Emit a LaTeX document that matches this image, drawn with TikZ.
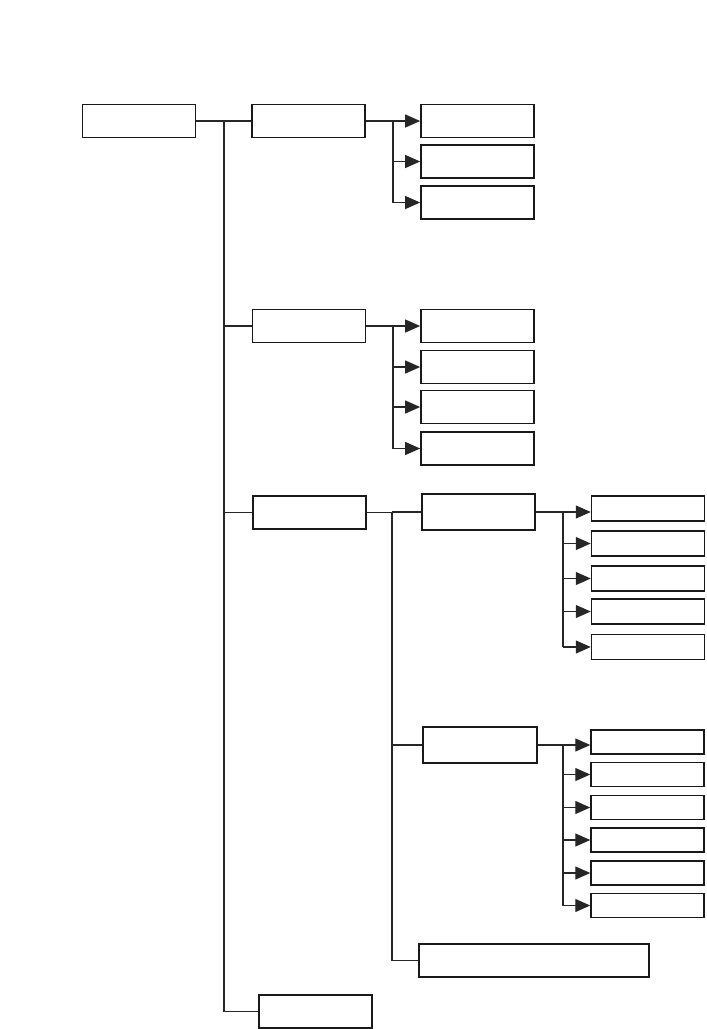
\documentclass[tikz,border=0pt]{standalone}
\usetikzlibrary{arrows.meta, positioning}
\begin{document}
\begin{tikzpicture}[x=1pt, y=-1pt,
  box/.style={draw=black!90, line width=1.7pt, minimum width=113pt, minimum height=33pt, inner sep=0pt},
  leaf/.style={box, line width=1.5pt, minimum height=25pt},
  link/.style={line width=1.2pt, black!85},
  arr/.style={link, -{Triangle[length=15pt, width=13pt]}}]
\useasboundingbox (0,0) rectangle (707,1029);
% first level
\node at (139,121) [box] (root) {};
\node at (308.5,121) [box] (sys) {};
\node at (309,326) [box] (mid) {};
\node at (309.5,512.5) [box] (low) {};
\node at (315.5,1011.5) [box] (tail) {};
% children of sys
\node at (477.5,121) [box] (a1) {};
\node at (477.5,161.5) [box] (a2) {};
\node at (477.5,202.5) [box] (a3) {};
% children of mid
\node at (477.5,326) [box] (b1) {};
\node at (477.5,367) [box] (b2) {};
\node at (477.5,407) [box] (b3) {};
\node at (477.5,448.5) [box] (b4) {};
% children of low
\node at (478.5,512) [box, minimum height=36pt] (c1) {};
\node at (480,745) [box, minimum height=36pt, minimum width=114pt] (c2) {};
\node at (534,960.5) [box, minimum width=230pt] (c3) {};
% leaves of c1
\node at (648,508.5) [leaf] (d1) {};
\node at (648,543.5) [leaf] (d2) {};
\node at (648,578.5) [leaf] (d3) {};
\node at (648,611.5) [leaf] (d4) {};
\node at (648,647) [leaf] (d5) {};
% leaves of c2
\node at (647.5,742) [leaf, minimum height=24pt] (e1) {};
\node at (647.5,774.5) [leaf, minimum height=24pt] (e2) {};
\node at (647.5,807.5) [leaf, minimum height=24pt] (e3) {};
\node at (647.5,840) [leaf, minimum height=24pt] (e4) {};
\node at (647.5,873) [leaf, minimum height=24pt] (e5) {};
\node at (647.5,905.5) [leaf, minimum height=24pt] (e6) {};
% junctions
\coordinate (jroot) at (224,121);
\coordinate (jA) at (393,121);
\coordinate (jB) at (393,326);
\coordinate (jC) at (392,512.5);
\coordinate (jC1) at (563,512);
\coordinate (jC2) at (563,745);
% trunk
\draw [link] (root.east) -- (jroot);
\draw [link] (jroot) -- (jroot |- tail.west);
\draw [link] (jroot) -- (sys.west);
\draw [link] (jroot |- mid.west) -- (mid.west);
\draw [link] (jroot |- low.west) -- (low.west);
\draw [link] (jroot |- tail.west) -- (tail.west);
% sys branch
\draw [link] (sys.east) -- (jA);
\draw [link] (jA) -- (jA |- a3.west);
\draw [arr] (jA) -- (a1.west);
\draw [arr] (jA |- a2.west) -- (a2.west);
\draw [arr] (jA |- a3.west) -- (a3.west);
% mid branch
\draw [link] (mid.east) -- (jB);
\draw [link] (jB) -- (jB |- b4.west);
\draw [arr] (jB) -- (b1.west);
\draw [arr] (jB |- b2.west) -- (b2.west);
\draw [arr] (jB |- b3.west) -- (b3.west);
\draw [arr] (jB |- b4.west) -- (b4.west);
% low branch
\draw [link] (low.east) -- (jC);
\draw [link] (jC) -- (jC |- c3.west);
\draw [link] (jC |- c1.west) -- (c1.west);
\draw [link] (jC |- c2.west) -- (c2.west);
\draw [link] (jC |- c3.west) -- (c3.west);
% c1 leaves
\draw [link] (c1.east) -- (jC1);
\draw [link] (jC1) -- (jC1 |- d5.west);
\draw [arr] (jC1) -- (d1.west |- jC1);
\draw [arr] (jC1 |- d2.west) -- (d2.west);
\draw [arr] (jC1 |- d3.west) -- (d3.west);
\draw [arr] (jC1 |- d4.west) -- (d4.west);
\draw [arr] (jC1 |- d5.west) -- (d5.west);
% c2 leaves
\draw [link] (c2.east) -- (jC2);
\draw [link] (jC2) -- (jC2 |- e6.west);
\draw [arr] (jC2) -- (e1.west |- jC2);
\draw [arr] (jC2 |- e2.west) -- (e2.west);
\draw [arr] (jC2 |- e3.west) -- (e3.west);
\draw [arr] (jC2 |- e4.west) -- (e4.west);
\draw [arr] (jC2 |- e5.west) -- (e5.west);
\draw [arr] (jC2 |- e6.west) -- (e6.west);
\end{tikzpicture}
\end{document}
